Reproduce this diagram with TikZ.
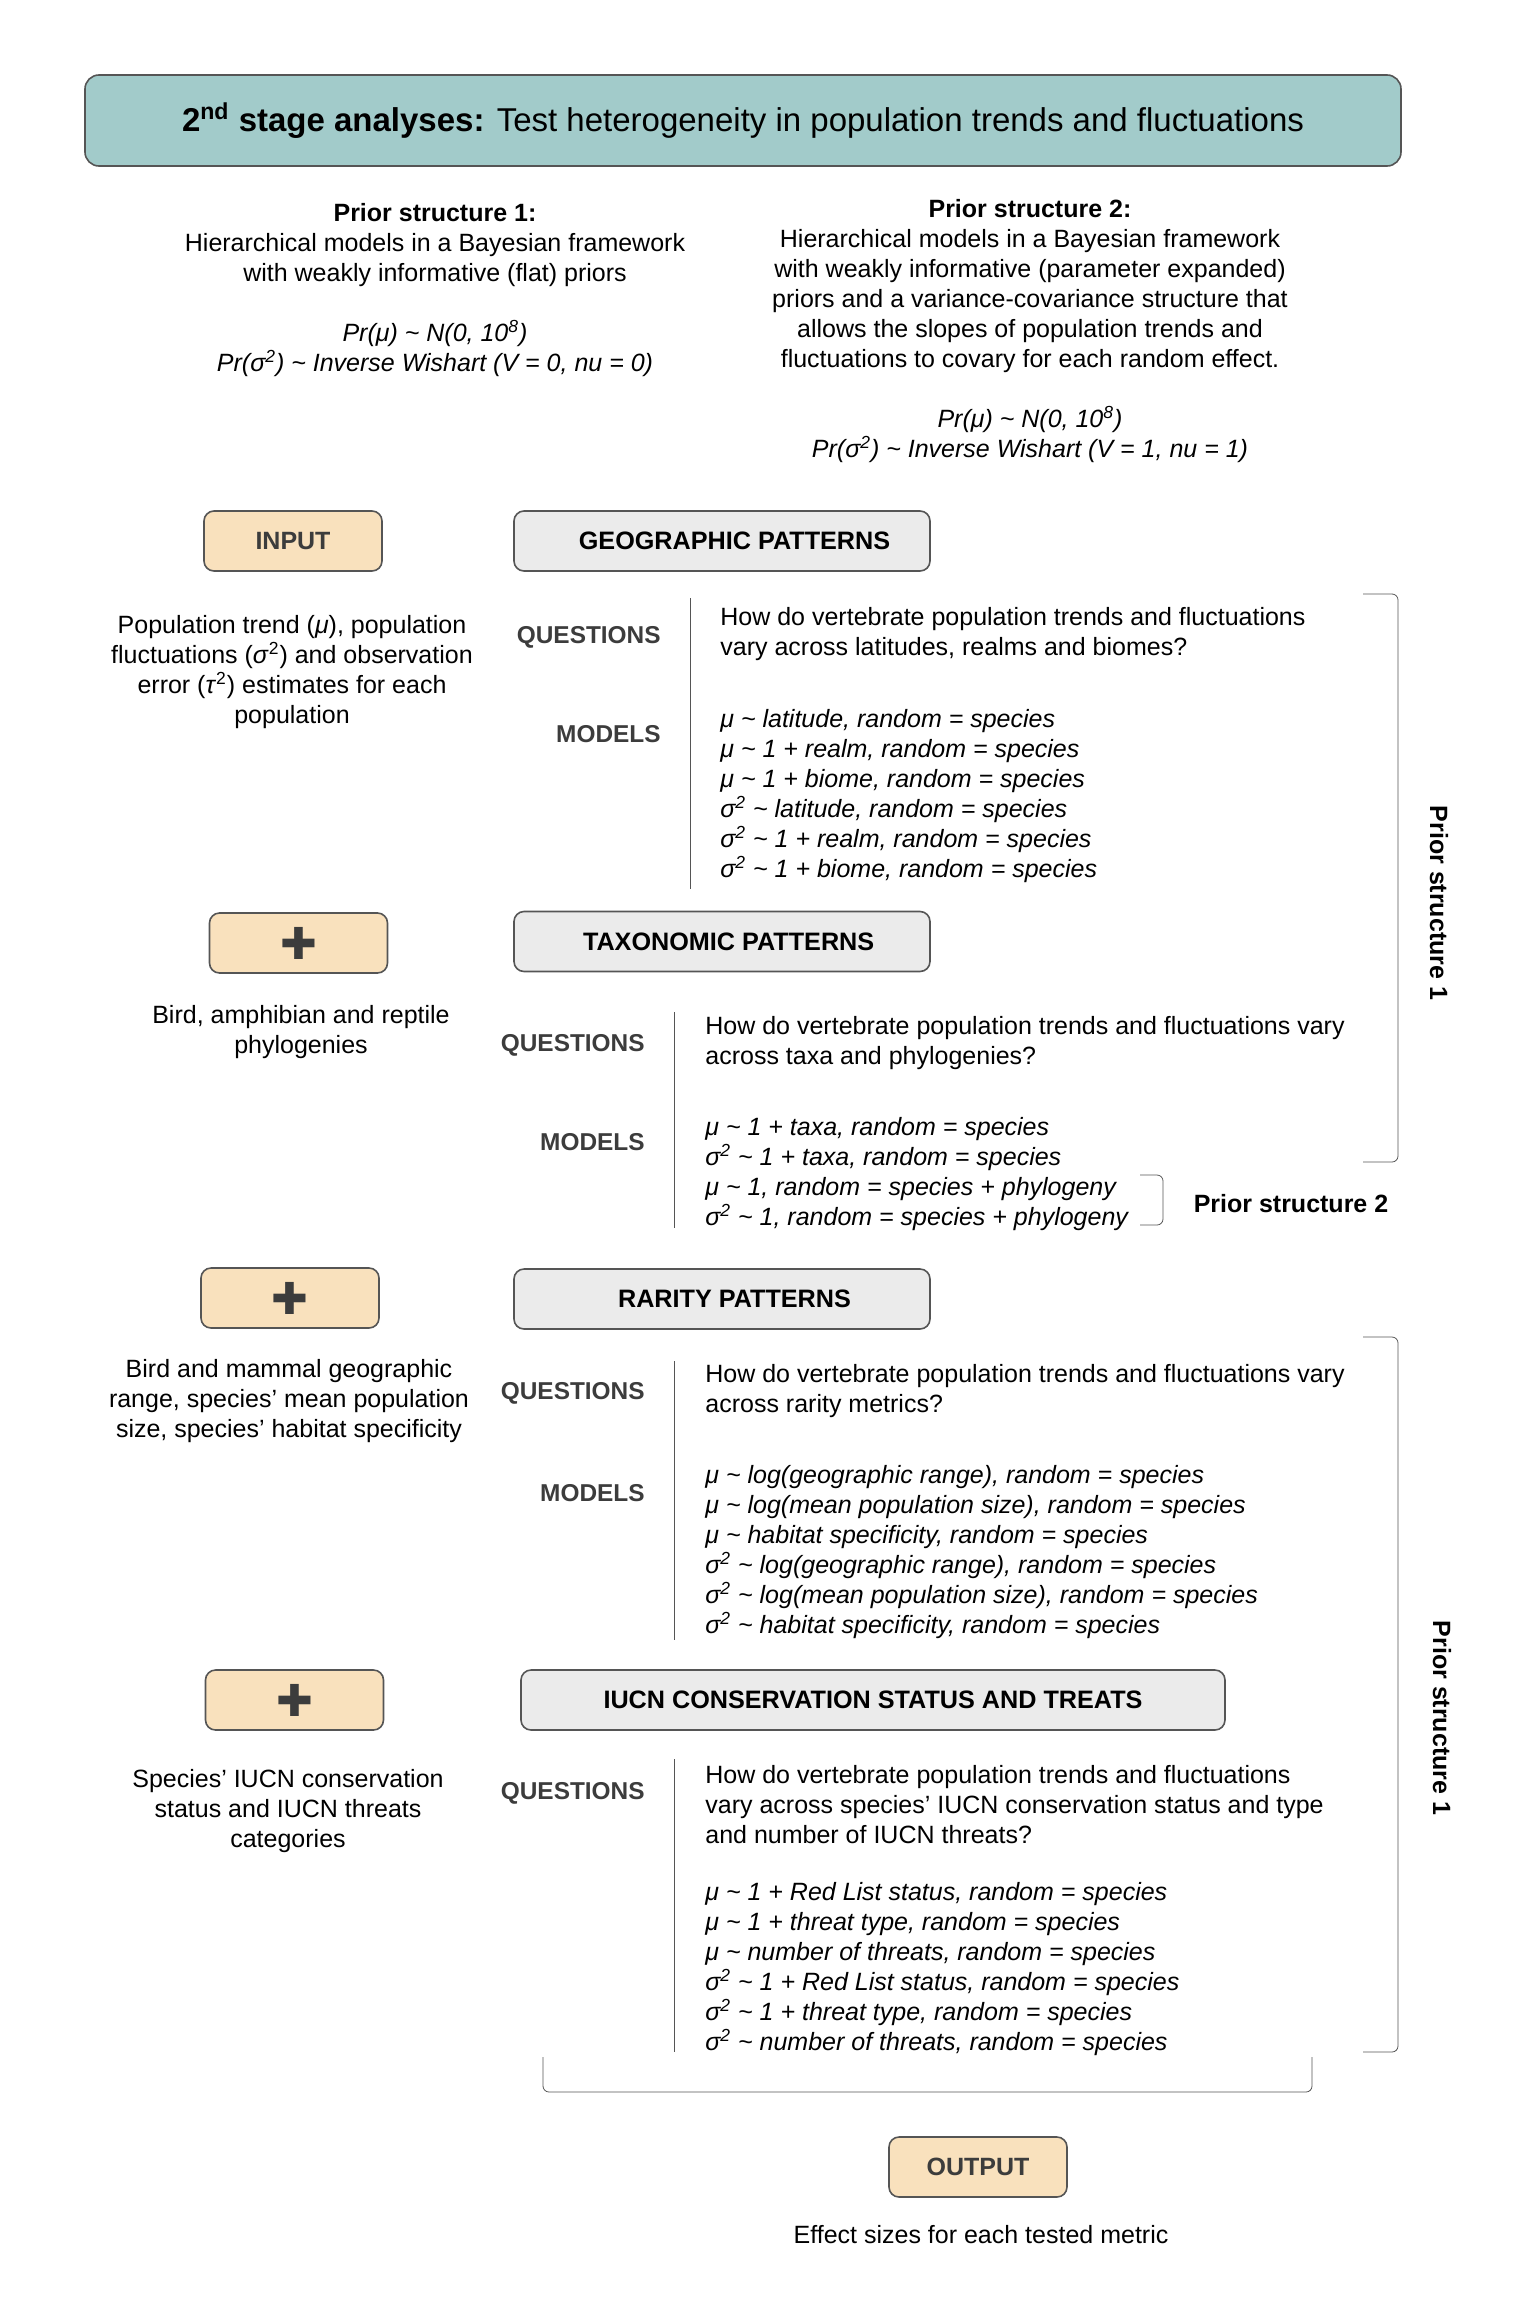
\documentclass[tikz,border=0pt]{standalone}
\usepackage{fontspec}
\setmainfont{Liberation Sans}
\newfontfamily\plusfont{DejaVu Sans}
\usetikzlibrary{positioning}
\definecolor{titlefill}{RGB}{162,203,202}
\definecolor{peach}{RGB}{249,225,189}
\definecolor{boxgray}{RGB}{235,235,235}
\definecolor{boxline}{RGB}{85,85,85}
\definecolor{labgray}{RGB}{60,60,60}
\newcommand{\tilda}{\textasciitilde{}}
\begin{document}
\begin{tikzpicture}[x=0.5pt, y=-0.5pt,
  txt/.style={inner sep=0pt, font=\fontsize{12.5}{15}\selectfont},
  inbox/.style={draw=boxline, thick, fill=peach, rounded corners=5pt, minimum width=89pt, minimum height=30pt, text=labgray, font=\fontsize{12.5}{15}\selectfont\bfseries},
  patbox/.style={draw=boxline, thick, fill=boxgray, rounded corners=5pt, minimum width=208pt, minimum height=30pt, font=\fontsize{12.6}{15}\selectfont\bfseries},
  hdr/.style={inner sep=0pt, anchor=east, text=labgray, font=\fontsize{12.2}{15}\selectfont\bfseries},
  brk/.style={draw=boxline, rounded corners=3pt}]
\useasboundingbox (0,0) rectangle (1520,2302);
\node[draw=boxline, thick, fill=titlefill, rounded corners=7pt, minimum width=658pt, minimum height=45.5pt, font=\fontsize{16.5}{20}\selectfont] (title) at (743,120.5) {\textbf{2\textsuperscript{nd} stage analyses:} Test heterogeneity in population trends and fluctuations};
\node[txt, anchor=north, align=center] (prior1) at (435,203) {\textbf{Prior structure 1:}\\Hierarchical models in a Bayesian framework\\with weakly informative (flat) priors\\[15pt]\textit{Pr(μ) \tilda\ N(0, 10\textsuperscript{8})}\\\textit{Pr(σ\textsuperscript{2}) \tilda\ Inverse Wishart (V = 0, nu = 0)}};
\node[txt, anchor=north, align=center] (prior2) at (1030,199) {\textbf{Prior structure 2:}\\Hierarchical models in a Bayesian framework\\with weakly informative (parameter expanded)\\priors and a variance-covariance structure that\\allows the slopes of population trends and\\fluctuations to covary for each random effect.\\[15pt]\textit{Pr(μ) \tilda\ N(0, 10\textsuperscript{8})}\\\textit{Pr(σ\textsuperscript{2}) \tilda\ Inverse Wishart (V = 1, nu = 1)}};
\node[inbox] (input) at (293,541) {INPUT};
\node[patbox] (geo) at (722,541) {\hspace*{12.5pt}GEOGRAPHIC PATTERNS};
\node[txt, anchor=north, align=center] (geoin) at (292,615) {Population trend (\textit{μ}), population\\fluctuations (\textit{σ}\textsuperscript{2}) and observation\\error (\textit{τ}\textsuperscript{2}) estimates for each\\population};
\node[hdr] (geoq) at (661,637) {QUESTIONS};
\node[hdr] (geom) at (661,734) {MODELS};
\node[txt, anchor=north west, align=left] (geoqt) at (720,607) {How do vertebrate population trends and fluctuations\\vary across latitudes, realms and biomes?};
\node[txt, anchor=north west, align=left, font=\fontsize{12.5}{15}\selectfont\itshape] (geomt) at (720,709) {μ \tilda\ latitude, random = species\\μ \tilda\ 1 + realm, random = species\\μ \tilda\ 1 + biome, random = species\\σ\textsuperscript{2} \tilda\ latitude, random = species\\σ\textsuperscript{2} \tilda\ 1 + realm, random = species\\σ\textsuperscript{2} \tilda\ 1 + biome, random = species};
\draw[boxline] (690,598) -- (690,889);
\node[inbox, font=\fontsize{22}{22}\selectfont\plusfont] (plus1) at (298.5,943) {✚};
\node[patbox] (tax) at (722,941.5) {\hspace*{6.6pt}TAXONOMIC PATTERNS};
\node[txt, anchor=north, align=center] (taxin) at (301,1005) {Bird, amphibian and reptile\\phylogenies};
\node[hdr] (taxq) at (645,1045) {QUESTIONS};
\node[hdr] (taxm) at (645,1142) {MODELS};
\node[txt, anchor=north west, align=left] (taxqt) at (705,1016) {How do vertebrate population trends and fluctuations vary\\across taxa and phylogenies?};
\node[txt, anchor=north west, align=left, font=\fontsize{12.5}{15}\selectfont\itshape] (taxmt) at (705,1117) {μ \tilda\ 1 + taxa, random = species\\σ\textsuperscript{2} \tilda\ 1 + taxa, random = species\\μ \tilda\ 1, random = species + phylogeny\\σ\textsuperscript{2} \tilda\ 1, random = species + phylogeny};
\draw[boxline] (674,1012) -- (674,1228);
\draw[brk] (1140,1175) -- (1163,1175) -- (1163,1225) -- (1140,1225);
\node[txt, font=\fontsize{12.5}{15}\selectfont\bfseries] (ps2) at (1291,1204) {Prior structure 2};
\node[inbox, font=\fontsize{22}{22}\selectfont\plusfont] (plus2) at (290,1298) {✚};
\node[patbox] (rar) at (722,1299) {\hspace*{12.5pt}RARITY PATTERNS};
\node[txt, anchor=north, align=center] (rarin) at (289,1359) {Bird and mammal geographic\\range, species' mean population\\size, species' habitat specificity};
\node[hdr] (rarq) at (645,1393) {QUESTIONS};
\node[hdr] (rarm) at (645,1493) {MODELS};
\node[txt, anchor=north west, align=left] (rarqt) at (705,1364) {How do vertebrate population trends and fluctuations vary\\across rarity metrics?};
\node[txt, anchor=north west, align=left, font=\fontsize{12.5}{15}\selectfont\itshape] (rarmt) at (705,1465) {μ \tilda\ log(geographic range), random = species\\μ \tilda\ log(mean population size), random = species\\μ \tilda\ habitat specificity, random = species\\σ\textsuperscript{2} \tilda\ log(geographic range), random = species\\σ\textsuperscript{2} \tilda\ log(mean population size), random = species\\σ\textsuperscript{2} \tilda\ habitat specificity, random = species};
\draw[boxline] (674,1361) -- (674,1640);
\node[inbox, font=\fontsize{22}{22}\selectfont\plusfont] (plus3) at (294.5,1700) {✚};
\node[patbox, minimum width=352pt] (iucn) at (873,1700) {IUCN CONSERVATION STATUS AND TREATS};
\node[txt, anchor=north, align=center] (iucnin) at (288,1769) {Species' IUCN conservation\\status and IUCN threats\\categories};
\node[hdr] (iucnq) at (645,1793) {QUESTIONS};
\node[txt, anchor=north west, align=left] (iucnqt) at (705,1765) {How do vertebrate population trends and fluctuations\\vary across species' IUCN conservation status and type\\and number of IUCN threats?};
\node[txt, anchor=north west, align=left, font=\fontsize{12.5}{15}\selectfont\itshape] (iucnmt) at (705,1882) {μ \tilda\ 1 + Red List status, random = species\\μ \tilda\ 1 + threat type, random = species\\μ \tilda\ number of threats, random = species\\σ\textsuperscript{2} \tilda\ 1 + Red List status, random = species\\σ\textsuperscript{2} \tilda\ 1 + threat type, random = species\\σ\textsuperscript{2} \tilda\ number of threats, random = species};
\draw[boxline] (674,1759) -- (674,2052);
\draw[brk] (1363,594) -- (1398,594) -- (1398,1162) -- (1363,1162);
\node[txt, rotate=-90, font=\fontsize{12.5}{15}\selectfont\bfseries] (ps1a) at (1439,903) {Prior structure 1};
\draw[brk] (1363,1337) -- (1398,1337) -- (1398,2052) -- (1363,2052);
\node[txt, rotate=-90, font=\fontsize{12.5}{15}\selectfont\bfseries] (ps1b) at (1442,1718) {Prior structure 1};
\draw[brk] (543,2057) -- (543,2092) -- (1312,2092) -- (1312,2057);
\node[inbox] (output) at (978,2167) {OUTPUT};
\node[txt] (outtxt) at (981,2235) {Effect sizes for each tested metric};
\end{tikzpicture}
\end{document}
